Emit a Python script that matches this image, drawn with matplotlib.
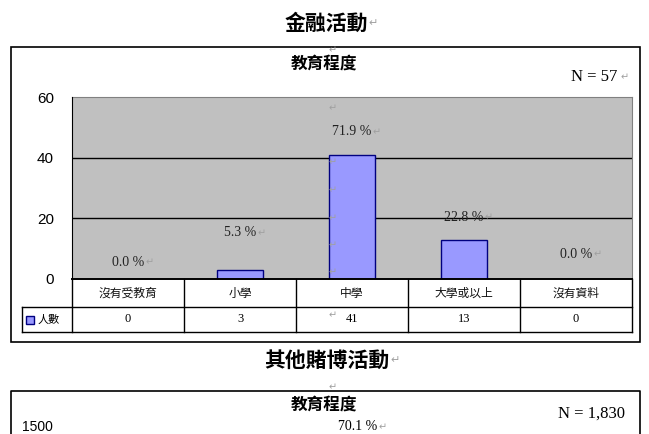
import matplotlib
matplotlib.use("Agg")
import matplotlib.pyplot as plt
from matplotlib.patches import Rectangle
from matplotlib.lines import Line2D
from matplotlib.transforms import blended_transform_factory
import numpy as np

plt.rcParams["font.family"] = ["Noto Sans CJK TC", "DejaVu Sans"]

# ---- data ----
categories = ["沒有受教育", "小學", "中學", "大學或以上", "沒有資料"]
counts = [0, 3, 41, 13, 0]
percents = [0.0, 5.3, 71.9, 22.8, 0.0]
series_name = "人數"
yticks = [0, 20, 40, 60]
page_title = "金融活動"
next_title = "其他賭博活動"
chart_title = "教育程度"
n_text = "N = 57"
next_n_text = "N = 1,830"
next_tick = "1500"
next_pct = "70.1 %"

# the % boxes float freely in the original word doc, this is where they sit (in y units)
pct_label_y = [5.6, 15.2, 48.5, 20.4, 8.2]

W, H = 649, 434
BAR = "#9999ff"
EDGE = "#000080"
PLOT_BG = "#c0c0c0"
MARK = "#a0a0a0"
SERIF = "Liberation Serif"

fig = plt.figure(figsize=(W / 100, H / 100), dpi=100)
fig.patch.set_facecolor("white")
renderer = fig.canvas.get_renderer()


def px(x, y):
    return x / W, 1 - y / H


def ftext(x, y, s, **kw):
    return fig.text(*px(x, y), s, **kw)


def mark_after(t, size=7, dx=1):
    # word's little paragraph mark after a text
    bb = t.get_window_extent(renderer)
    fig.text((bb.x1 + dx) / W, (bb.y0 + bb.y1) / 2 / H, "\u21b5", color=MARK,
             fontsize=size, family="DejaVu Sans", ha="left", va="center")


# outer frames
fig.add_artist(Rectangle(px(11, 342), 629 / W, 295 / H, transform=fig.transFigure,
                         fill=False, ec="black", lw=1.2))
fig.add_artist(Line2D([11 / W, 11 / W, 640 / W, 640 / W],
                      [1 - 445 / H, 1 - 391 / H, 1 - 391 / H, 1 - 445 / H],
                      transform=fig.transFigure, color="black", lw=1.2))

# plot area
ax = fig.add_axes([72 / W, 1 - 279 / H, 560 / W, 182 / H])
x = np.arange(len(categories))
ax.set_facecolor(PLOT_BG)
ax.set_xlim(-0.5, len(categories) - 0.5)
ax.set_ylim(yticks[0], yticks[-1])
ax.set_yticks(yticks)
ax.set_xticks([])
for v in yticks[1:-1]:
    ax.axhline(v, color="black", lw=1, zorder=1)
ax.bar(x, counts, width=0.41, color=BAR, edgecolor=EDGE, lw=1, zorder=2)
for side in ["top", "right"]:
    ax.spines[side].set_color("#808080")
for side in ["left", "bottom"]:
    ax.spines[side].set_color("black")
    ax.spines[side].set_zorder(4)
ax.spines["bottom"].set_linewidth(1.4)
ax.tick_params(axis="y", length=0, pad=13, labelsize=11)
for lab in ax.get_yticklabels():
    lab.set_family("Liberation Sans")

for i, p in enumerate(percents):
    t = ax.text(x[i], pct_label_y[i], f"{p:.1f} %", ha="center", va="center",
                fontsize=10, family=SERIF, color="#222222", zorder=3)
    mark_after(t)

# data table under the plot
trans = blended_transform_factory(ax.transData, ax.transAxes)
row1 = 28 / 182
row2 = 25 / 182
legend_left = -0.5 - 50 / 112
edges = np.arange(len(categories) + 1) - 0.5
kw = dict(transform=trans, clip_on=False, color="black", lw=1)
ax.plot([legend_left, edges[-1]], [-row1, -row1], **kw)
ax.plot([legend_left, edges[-1]], [-row1 - row2, -row1 - row2], **kw)
ax.plot([legend_left, legend_left], [-row1, -row1 - row2], **kw)
for e in edges:
    ax.plot([e, e], [0, -row1 - row2], **kw)
for i, (c, n) in enumerate(zip(categories, counts)):
    ax.text(x[i], -row1 / 2, c, transform=trans, ha="center", va="center",
            fontsize=8.5, color="#111111")
    ax.text(x[i], -row1 - row2 / 2, str(n), transform=trans, ha="center",
            va="center", fontsize=9, family=SERIF)
ax.plot([legend_left + 0.075], [-row1 - row2 / 2], marker="s", ms=6,
        mfc=BAR, mec=EDGE, mew=1, transform=trans, clip_on=False)
ax.text(legend_left + 0.14, -row1 - row2 / 2, series_name, transform=trans,
        ha="left", va="center", fontsize=8)

# titles and notes
t = ftext(326, 23, page_title, ha="center", va="center", fontsize=15, weight="bold")
mark_after(t, size=8)
ftext(324, 64, chart_title, ha="center", va="center", fontsize=12, weight="bold")
t = ftext(617, 77, n_text, ha="right", va="center", fontsize=12, family=SERIF)
mark_after(t, dx=4)

t = ftext(327, 360, next_title, ha="center", va="center", fontsize=15, weight="bold")
mark_after(t, size=8)
ftext(324, 405, chart_title, ha="center", va="center", fontsize=12, weight="bold")
ftext(625, 414, next_n_text, ha="right", va="center", fontsize=12, family=SERIF)

# top of the next chart, right at the page edge
ftext(22, 427, next_tick, ha="left", va="center", fontsize=10, family="Liberation Sans")
t = ftext(358, 427, next_pct, ha="center", va="center", fontsize=10, family=SERIF)
mark_after(t)

# stray paragraph marks down the middle of the page
for y in [50, 108, 162, 190, 218, 245, 272, 315, 387]:
    ftext(333, y, "\u21b5", ha="center", va="center", fontsize=7,
          family="DejaVu Sans", color=MARK)

fig.savefig("out.png", dpi=100)
